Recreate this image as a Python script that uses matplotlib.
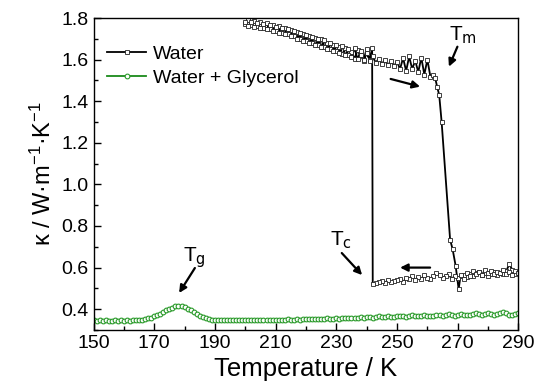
import matplotlib
matplotlib.use("Agg")
import matplotlib.pyplot as plt

plt.rcParams['font.family'] = ['Liberation Sans', 'DejaVu Sans']
plt.rcParams['mathtext.default'] = 'regular'

# Water: cooling of the liquid from 290 K down to the freezing point
cool_liq_T = [290, 289, 288, 287, 286, 285, 284, 283, 282, 281, 280, 279, 278, 277,
              276, 275, 274, 273, 272, 271, 270, 269, 268, 267, 266, 265, 264, 263,
              262, 261, 260, 259, 258, 257, 256, 255, 254, 253, 252, 251, 250, 249,
              248, 247, 246, 245, 244, 243, 242]
cool_liq_k = [0.575, 0.570, 0.590, 0.615, 0.585, 0.570, 0.575, 0.565, 0.580, 0.570,
              0.560, 0.575, 0.565, 0.580, 0.575, 0.560, 0.570, 0.555, 0.565, 0.560,
              0.550, 0.560, 0.545, 0.570, 0.560, 0.550, 0.565, 0.575, 0.560, 0.545,
              0.550, 0.565, 0.545, 0.555, 0.540, 0.560, 0.545, 0.550, 0.530, 0.545,
              0.540, 0.535, 0.530, 0.540, 0.525, 0.535, 0.530, 0.525, 0.522]

# Water: freezing jump and cooling of the ice down to 200 K
cool_ice_T = [241.8, 241, 240, 239, 238, 237, 236, 235, 234, 233, 232, 231, 230, 229,
              228, 227, 226, 225, 224, 223, 222, 221, 220, 219, 218, 217, 216, 215,
              214, 213, 212, 211, 210, 209, 208, 207, 206, 205, 204, 203, 202, 201, 200]
cool_ice_k = [1.655, 1.600, 1.630, 1.595, 1.620, 1.645, 1.605, 1.635, 1.620, 1.655,
              1.625, 1.660, 1.640, 1.668, 1.650, 1.680, 1.660, 1.700, 1.668, 1.705,
              1.682, 1.712, 1.690, 1.725, 1.700, 1.735, 1.712, 1.742, 1.722, 1.752,
              1.730, 1.760, 1.738, 1.768, 1.745, 1.775, 1.752, 1.782, 1.760, 1.785,
              1.765, 1.788, 1.770]

# Water: heating of the ice up to melting
heat_ice_T = [200, 201, 202, 203, 204, 205, 206, 207, 208, 209, 210, 211, 212, 213,
              214, 215, 216, 217, 218, 219, 220, 221, 222, 223, 224, 225, 226, 227,
              228, 229, 230, 231, 232, 233, 234, 235, 236, 237, 238, 239, 240, 241,
              242, 243, 244, 245, 246, 247, 248, 249, 250, 251, 252, 253, 254, 255,
              256, 257, 258, 259, 260, 261, 262]
heat_ice_k = [1.782, 1.762, 1.780, 1.755, 1.775, 1.750, 1.770, 1.745, 1.765, 1.738,
              1.758, 1.730, 1.752, 1.722, 1.745, 1.712, 1.738, 1.700, 1.728, 1.690,
              1.718, 1.680, 1.708, 1.668, 1.700, 1.660, 1.695, 1.650, 1.680, 1.642,
              1.672, 1.630, 1.665, 1.620, 1.650, 1.612, 1.655, 1.602, 1.640, 1.598,
              1.652, 1.592, 1.615, 1.585, 1.605, 1.580, 1.598, 1.572, 1.595, 1.570,
              1.590, 1.555, 1.608, 1.545, 1.615, 1.555, 1.595, 1.540, 1.610, 1.528,
              1.600, 1.518, 1.525]

# Water: melting
melt_T = [262.6, 263.2, 263.9, 264.7, 267.5, 268.3, 269.3, 270.3]
melt_k = [1.510, 1.470, 1.430, 1.300, 0.733, 0.690, 0.610, 0.497]

# Water: heating of the liquid up to 290 K
heat_liq_T = [271, 272, 273, 274, 275, 276, 277, 278, 279, 280, 281, 282, 283, 284,
              285, 286, 287, 288, 289, 290]
heat_liq_k = [0.565, 0.545, 0.575, 0.560, 0.585, 0.570, 0.580, 0.565, 0.590, 0.575,
              0.585, 0.570, 0.580, 0.575, 0.590, 0.570, 0.580, 0.565, 0.585, 0.575]

water_T = cool_liq_T + cool_ice_T + heat_ice_T + melt_T + heat_liq_T
water_k = cool_liq_k + cool_ice_k + heat_ice_k + melt_k + heat_liq_k

# Water + glycerol, 150-290 K
gly_T = list(range(150, 291))
gly_k = [0.346, 0.345, 0.347, 0.344, 0.346, 0.345, 0.344, 0.346, 0.345, 0.347,
         0.345, 0.346, 0.344, 0.347, 0.346, 0.348, 0.350, 0.352, 0.356, 0.360,
         0.366, 0.372, 0.379, 0.386, 0.394, 0.402, 0.408, 0.413, 0.416, 0.414,
         0.409, 0.402, 0.394, 0.386, 0.377, 0.369, 0.362, 0.357, 0.353, 0.350,
         0.349, 0.348, 0.349, 0.347, 0.348, 0.349, 0.347, 0.348, 0.349, 0.347,
         0.348, 0.350, 0.348, 0.347, 0.349, 0.348, 0.350, 0.348, 0.349, 0.347,
         0.349, 0.350, 0.348, 0.349, 0.351, 0.349, 0.350, 0.352, 0.350, 0.351,
         0.353, 0.351, 0.352, 0.354, 0.352, 0.355, 0.353, 0.356, 0.354, 0.355,
         0.357, 0.355, 0.358, 0.356, 0.358, 0.360, 0.357, 0.359, 0.362, 0.359,
         0.361, 0.364, 0.360, 0.362, 0.366, 0.362, 0.363, 0.367, 0.364, 0.362,
         0.365, 0.369, 0.366, 0.364, 0.368, 0.371, 0.367, 0.365, 0.368, 0.372,
         0.369, 0.366, 0.369, 0.373, 0.370, 0.367, 0.371, 0.376, 0.372, 0.368,
         0.371, 0.377, 0.374, 0.370, 0.373, 0.379, 0.383, 0.378, 0.374, 0.377,
         0.381, 0.376, 0.373, 0.378, 0.384, 0.388, 0.380, 0.374, 0.372, 0.375,
         0.380]

x_ticks = [150, 170, 190, 210, 230, 250, 270, 290]
y_ticks = [0.4, 0.6, 0.8, 1.0, 1.2, 1.4, 1.6, 1.8]

fig = plt.figure(figsize=(5.35, 3.88), dpi=100)
ax = fig.add_axes([0.1748, 0.1495, 0.7942, 0.8041])

ax.plot(water_T, water_k, color='black', lw=1.3, marker='s', ms=3.3,
        mfc='white', mec='#222222', mew=0.6, label='Water')
ax.plot(gly_T, gly_k, color='#1a8a1a', lw=1.3, marker='o', ms=3.4,
        mfc='white', mec='#2a9a2a', mew=0.8, label='Water + Glycerol')

ax.set_xlim(150, 290)
ax.set_ylim(0.3, 1.8)
ax.set_xticks(x_ticks)
ax.set_xticks(range(160, 290, 20), minor=True)
ax.set_yticks(y_ticks)
ax.set_yticks([0.3, 0.5, 0.7, 0.9, 1.1, 1.3, 1.5, 1.7], minor=True)
ax.set_yticklabels([f'{v:.1f}' for v in y_ticks])
ax.tick_params(which='both', direction='in', top=False, right=False,
               labelsize=14, width=1)
ax.tick_params(which='major', length=5)
ax.tick_params(which='minor', length=3)
for s in ax.spines.values():
    s.set_linewidth(1)

ax.set_xlabel('Temperature / K', fontsize=18.5, labelpad=4)
ax.set_ylabel(r'κ / W·m$^{-1}$·K$^{-1}$', fontsize=17, labelpad=4)

ax.legend(loc='upper left', bbox_to_anchor=(0.0, 0.955), frameon=False,
          fontsize=14, handlelength=2.0, handletextpad=0.35,
          labelspacing=0.3, borderaxespad=0.3)

arrow = dict(arrowstyle='-|>', color='black', lw=1.6, mutation_scale=11,
             shrinkA=0, shrinkB=0)
ax.annotate('', xy=(257.6, 1.470), xytext=(247.9, 1.507), arrowprops=arrow)
ax.annotate('', xy=(251.0, 0.600), xytext=(260.9, 0.600), arrowprops=arrow)
ax.annotate('', xy=(267.1, 1.566), xytext=(269.9, 1.662), arrowprops=arrow)
ax.annotate('', xy=(238.5, 0.564), xytext=(231.8, 0.670), arrowprops=arrow)
ax.annotate('', xy=(178.2, 0.478), xytext=(183.4, 0.598), arrowprops=arrow)

ax.text(271.7, 1.718, r'T$_{\rm m}$', fontsize=15, ha='center', va='center')
ax.text(231.6, 0.733, r'T$_{\rm c}$', fontsize=15, ha='center', va='center')
ax.text(183.3, 0.646, r'T$_{\rm g}$', fontsize=15, ha='center', va='center')

fig.savefig('out.png', dpi=100)
